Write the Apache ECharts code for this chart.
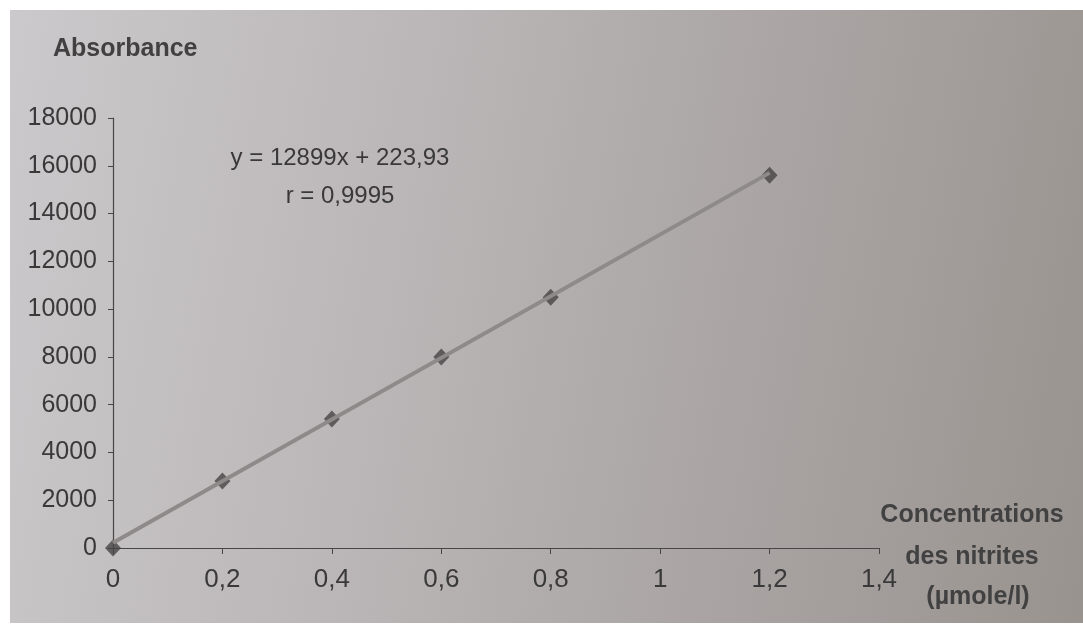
<!DOCTYPE html>
<html>
<head>
<meta charset="utf-8">
<title>Absorbance / nitrites</title>
<script src="https://cdn.jsdelivr.net/npm/echarts@6/dist/echarts.min.js"></script>
<style>
  html, body { margin: 0; padding: 0; background: #ffffff; }
  #sheet {
    position: absolute; left: 10px; top: 10px; width: 1073px; height: 613px;
    background: linear-gradient(100deg, #cbc9cb 0%, #bbb7b8 35%, #aba6a5 65%, #99938f 100%);
  }
  #chart { position: absolute; left: 0; top: 0; width: 1083px; height: 626px; }
</style>
</head>
<body>
<div id="sheet"></div>
<div id="chart"></div>
<script>
// Calibration points: concentration (µmole/l) and measured absorbance
const concentrations = [0, 0.2, 0.4, 0.6, 0.8, 1.2];
const absorbances = [0, 2800, 5400, 8000, 10500, 15600];

// Linear fit reported on the chart
const slope = 12899;
const intercept = 223.93;
const fitRange = [0, 1.2];

// Axis ticks
const xTicks = { min: 0, max: 1.4, interval: 0.2 };
const yTicks = { min: 0, max: 18000, interval: 2000 };

const equationText = 'y = 12899x + 223,93';
const rText = 'r = 0,9995';

const points = concentrations.map((c, i) => [c, absorbances[i]]);
const fitLine = fitRange.map(x => [x, slope * x + intercept]);

const font = "'Liberation Sans', Arial, sans-serif";
const ink = '#3a393a';

const chart = echarts.init(document.getElementById('chart'), null, { renderer: 'canvas' });
chart.setOption({
  backgroundColor: 'transparent',
  animation: false,
  grid: { left: 113, right: 204, top: 118, bottom: 78 },
  xAxis: {
    type: 'value',
    min: xTicks.min, max: xTicks.max, interval: xTicks.interval,
    axisLine: { show: true, onZero: false, lineStyle: { color: '#474546', width: 1.2 } },
    axisTick: { show: true, length: 6, lineStyle: { color: '#474546' } },
    splitLine: { show: false },
    axisLabel: {
      margin: 19, fontFamily: font, fontSize: 26, color: ink,
      formatter: v => String(Math.round(v * 10) / 10).replace('.', ',')
    }
  },
  yAxis: {
    type: 'value',
    min: yTicks.min, max: yTicks.max, interval: yTicks.interval,
    axisLine: { show: true, lineStyle: { color: '#474546', width: 1.2 } },
    axisTick: { show: true, length: 5, lineStyle: { color: '#474546' } },
    splitLine: { show: false },
    axisLabel: { margin: 16, fontFamily: font, fontSize: 25, color: ink, formatter: v => String(v) }
  },
  series: [
    {
      name: 'mesures',
      type: 'scatter',
      data: points,
      symbol: 'diamond',
      symbolSize: [16, 17],
      itemStyle: { color: '#474445' },
      z: 2
    },
    {
      name: 'régression',
      type: 'line',
      data: fitLine,
      showSymbol: false,
      lineStyle: { color: '#8f8a8a', width: 4 },
      z: 3
    }
  ],
  graphic: [
    {
      type: 'text', left: 53, top: 37,
      style: { text: 'Absorbance', font: 'bold 25px ' + font, fill: '#424142' }
    },
    {
      type: 'text', x: 340, y: 158,
      style: { text: equationText, font: '24px ' + font, fill: ink, align: 'center', verticalAlign: 'middle' }
    },
    {
      type: 'text', x: 340, y: 196,
      style: { text: rText, font: '24px ' + font, fill: ink, align: 'center', verticalAlign: 'middle' }
    },
    {
      type: 'text', x: 972, y: 515,
      style: { text: 'Concentrations', font: 'bold 25px ' + font, fill: '#424142', align: 'center', verticalAlign: 'middle' }
    },
    {
      type: 'text', x: 972, y: 557,
      style: { text: 'des nitrites', font: 'bold 25px ' + font, fill: '#424142', align: 'center', verticalAlign: 'middle' }
    },
    {
      type: 'text', x: 978, y: 597,
      style: { text: '(µmole/l)', font: 'bold 25px ' + font, fill: '#424142', align: 'center', verticalAlign: 'middle' }
    }
  ]
});
</script>
</body>
</html>
